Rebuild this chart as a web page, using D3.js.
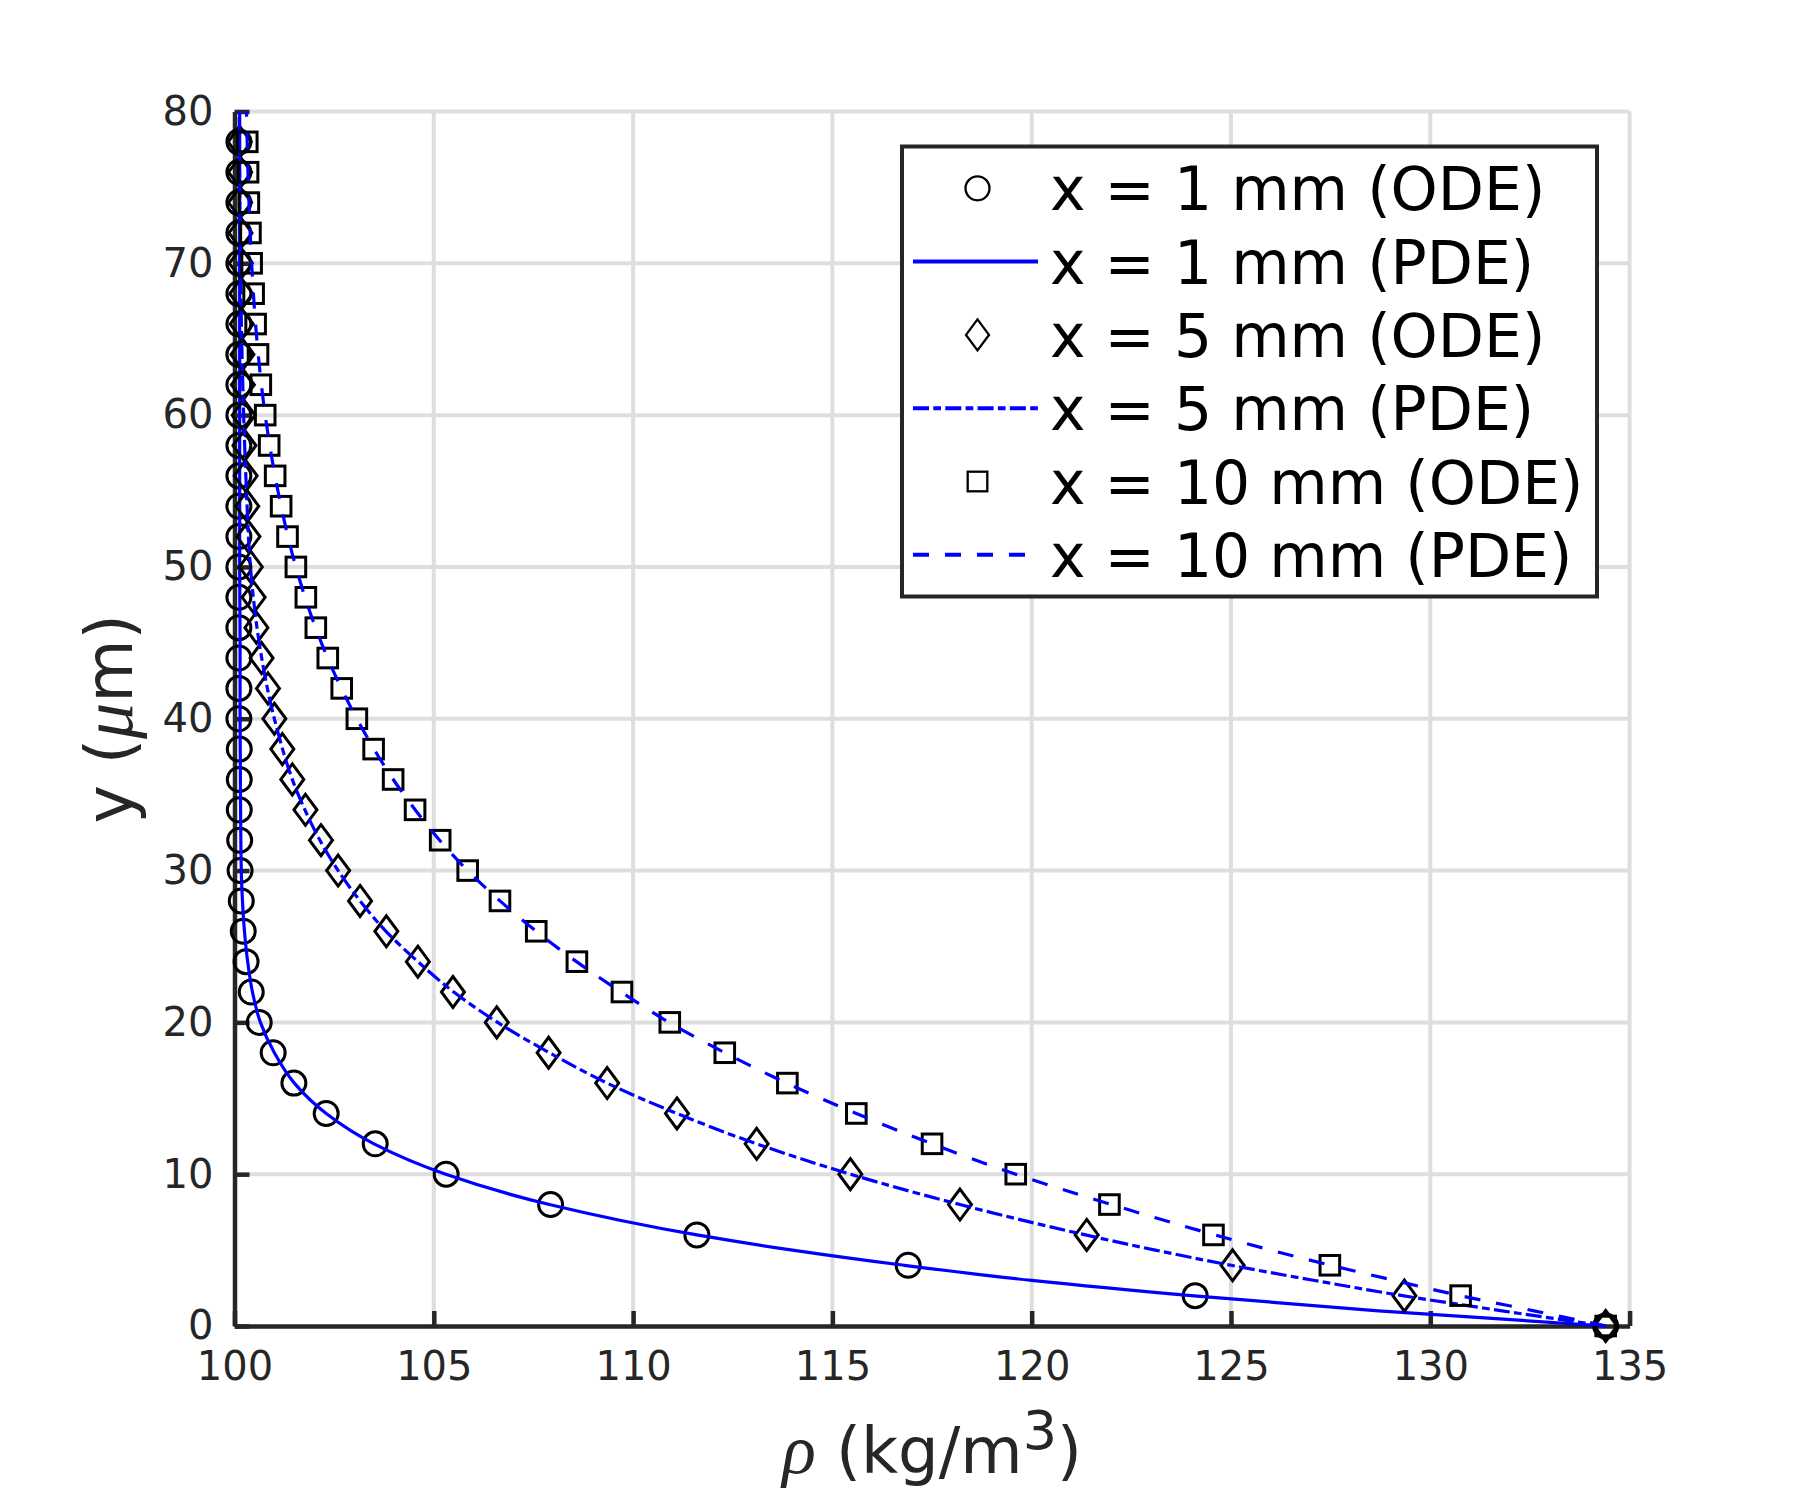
<!DOCTYPE html>
<html lang="en">
<head>
    <meta charset="UTF-8"/>
    <title>Density profiles, ODE vs PDE</title>
    <script src="https://d3js.org/d3.v7.min.js"></script>
    <style>
        body,
        html {
            margin: 0;
            padding: 0;
            background: #ffffff;
            font-family: "DejaVu Sans", sans-serif;
        }

        .chart {
            display: block;
        }
    </style>
</head>
<body>
<svg class="chart" width="1800" height="1500"></svg>
<script>
    // y positions (um) of the ODE markers
    const odeY = [0, 2, 4, 6, 8, 10, 12, 14, 16, 18, 20, 22, 24, 26, 28, 30, 32, 34, 36, 38,
        40, 42, 44, 46, 48, 50, 52, 54, 56, 58, 60, 62, 64, 66, 68, 70, 72, 74, 76, 78];

    // rho (kg/m3) of the ODE solution at x = 1, 5, 10 mm
    const odeX1 = [134.4, 124.1, 116.9, 111.6, 107.93, 105.31, 103.53, 102.3, 101.49, 100.97,
        100.62, 100.42, 100.29, 100.22, 100.17, 100.14, 100.13, 100.12, 100.12, 100.12,
        100.11, 100.11, 100.11, 100.11, 100.11, 100.11, 100.11, 100.11, 100.11, 100.11,
        100.11, 100.11, 100.11, 100.11, 100.11, 100.11, 100.11, 100.11, 100.11, 100.11];
    const odeX5 = [134.4, 129.35, 125.04, 121.38, 118.2, 115.45, 113.1, 111.1, 109.35, 107.88,
        106.58, 105.48, 104.6, 103.81, 103.15, 102.6, 102.17, 101.78, 101.45, 101.2,
        101.0, 100.84, 100.68, 100.55, 100.48, 100.41, 100.35, 100.32, 100.28, 100.25,
        100.23, 100.21, 100.2, 100.18, 100.17, 100.16, 100.15, 100.14, 100.14, 100.13];
    const odeX10 = [134.4, 130.76, 127.48, 124.56, 121.95, 119.6, 117.5, 115.6, 113.87, 112.3,
        110.92, 109.72, 108.59, 107.57, 106.66, 105.85, 105.16, 104.53, 103.98, 103.49,
        103.07, 102.69, 102.34, 102.04, 101.79, 101.54, 101.33, 101.17, 101.02, 100.87,
        100.77, 100.66, 100.59, 100.53, 100.48, 100.43, 100.4, 100.36, 100.34, 100.32];

    // y positions (um) sampled along the PDE curves
    const pdeY = [0, 1, 2, 3, 4, 5, 6, 8, 10, 12, 14, 16, 18, 20, 22, 24, 26, 28, 30,
        35, 40, 45, 50, 55, 60, 65, 70, 75, 80];

    const pdeX1 = [134.4, 128.7, 124.0, 120.0, 116.8, 114.0, 111.6, 107.9, 105.3, 103.5,
        102.3, 101.5, 101.0, 100.65, 100.45, 100.33, 100.25, 100.2, 100.17,
        100.15, 100.14, 100.14, 100.13, 100.13, 100.13, 100.13, 100.13, 100.13, 100.13];
    const pdeX5 = [134.4, 131.8, 129.3, 127.1, 125.0, 123.1, 121.35, 118.2, 115.45, 113.1,
        111.1, 109.35, 107.9, 106.6, 105.5, 104.6, 103.8, 103.15, 102.6,
        101.6, 101.0, 100.62, 100.4, 100.3, 100.23, 100.18, 100.15, 100.13, 100.12];
    const pdeX10 = [134.4, 132.6, 130.75, 129.1, 127.5, 126.0, 124.6, 122.0, 119.6, 117.5,
        115.6, 113.85, 112.3, 110.9, 109.7, 108.58, 107.57, 106.66, 105.85,
        104.25, 103.07, 102.18, 101.54, 101.09, 100.77, 100.56, 100.43, 100.35, 100.3];

    const xTicks = [100, 105, 110, 115, 120, 125, 130, 135];
    const yTicks = [0, 10, 20, 30, 40, 50, 60, 70, 80];

    const legendLabels = [
        "x = 1 mm (ODE)",
        "x = 1 mm (PDE)",
        "x = 5 mm (ODE)",
        "x = 5 mm (PDE)",
        "x = 10 mm (ODE)",
        "x = 10 mm (PDE)"
    ];

    const svg = d3.select(".chart");
    const plot = {left: 234.5, right: 1629.6, top: 111.5, bottom: 1326};
    const ink = "#262626";
    const greek = "Liberation Serif";

    const xScale = d3.scaleLinear().domain([100, 135]).range([plot.left, plot.right]);
    const yScale = d3.scaleLinear().domain([0, 80]).range([plot.bottom, plot.top]);

    // grid
    const grid = svg.append("g").attr("stroke", "#dedede").attr("stroke-width", 4);
    grid.selectAll("line.gx")
        .data(xTicks.slice(1))
        .enter()
        .append("line")
        .attr("x1", (d) => xScale(d))
        .attr("x2", (d) => xScale(d))
        .attr("y1", plot.top)
        .attr("y2", plot.bottom);
    grid.selectAll("line.gy")
        .data(yTicks.slice(1))
        .enter()
        .append("line")
        .attr("x1", plot.left)
        .attr("x2", plot.right)
        .attr("y1", (d) => yScale(d))
        .attr("y2", (d) => yScale(d));

    // axes
    const xAxis = svg.append("g")
        .attr("transform", `translate(0,${plot.bottom})`)
        .call(d3.axisBottom(xScale).tickValues(xTicks).tickSizeInner(-15).tickSizeOuter(0).tickPadding(26));
    const yAxis = svg.append("g")
        .attr("transform", `translate(${plot.left},0)`)
        .call(d3.axisLeft(yScale).tickValues(yTicks).tickSizeInner(-15).tickSizeOuter(0).tickPadding(21));

    [xAxis, yAxis].forEach((g) => {
        g.select(".domain").attr("stroke", ink).attr("stroke-width", 4.5);
        g.selectAll(".tick line").attr("stroke", ink).attr("stroke-width", 4.5);
        g.selectAll(".tick text")
            .attr("fill", ink)
            .attr("font-family", "DejaVu Sans")
            .attr("font-size", 40);
    });

    // axis titles
    const xTitle = svg.append("text")
        .attr("x", (plot.left + plot.right) / 2)
        .attr("y", 1473)
        .attr("text-anchor", "middle")
        .attr("fill", ink)
        .attr("font-size", 64);
    xTitle.append("tspan").attr("font-family", greek).attr("font-style", "italic").attr("font-size", 70).text("ρ");
    xTitle.append("tspan").text(" (kg/m");
    xTitle.append("tspan").attr("font-size", 54).attr("dy", -24).text("3");
    xTitle.append("tspan").attr("dy", 24).text(")");

    const yTitle = svg.append("text")
        .attr("transform", `translate(132,${(plot.top + plot.bottom) / 2}) rotate(-90)`)
        .attr("text-anchor", "middle")
        .attr("fill", ink)
        .attr("font-size", 65);
    yTitle.append("tspan").text("y (");
    yTitle.append("tspan").attr("font-family", greek).attr("font-style", "italic").attr("font-size", 72).text("μ");
    yTitle.append("tspan").text("m)");

    // marker shapes
    function marker(g, kind, cx, cy, sw) {
        if (kind === "circle") {
            g.append("circle").attr("cx", cx).attr("cy", cy).attr("r", 12);
        } else if (kind === "diamond") {
            g.append("path").attr("d", `M${cx},${cy - 15.5}L${cx + 11.5},${cy}L${cx},${cy + 15.5}L${cx - 11.5},${cy}Z`);
        } else {
            g.append("rect").attr("x", cx - 9.8).attr("y", cy - 9.8).attr("width", 19.6).attr("height", 19.6);
        }
        g.attr("fill", "none").attr("stroke", "#000").attr("stroke-width", sw);
    }

    const line = d3.line()
        .x((d) => xScale(d[0]))
        .y((d) => yScale(d[1]))
        .curve(d3.curveMonotoneY);

    const series = [
        {ode: odeX1, pde: pdeX1, shape: "circle", dash: null},
        {ode: odeX5, pde: pdeX5, shape: "diamond", dash: "16,4.3,7.7,4.3"},
        {ode: odeX10, pde: pdeX10, shape: "square", dash: "16,16"}
    ];

    series.forEach((s) => {
        const pts = svg.append("g");
        s.ode.forEach((v, i) => marker(pts.append("g"), s.shape, xScale(v), yScale(odeY[i]), 3));

        svg.append("path")
            .datum(s.pde.map((v, i) => [v, pdeY[i]]))
            .attr("fill", "none")
            .attr("stroke", "#0000ff")
            .attr("stroke-width", 3.2)
            .attr("stroke-dasharray", s.dash)
            .attr("d", line);
    });

    // legend
    const legend = svg.append("g");
    legend.append("rect")
        .attr("x", 902)
        .attr("y", 146.5)
        .attr("width", 695)
        .attr("height", 450)
        .attr("fill", "#ffffff")
        .attr("stroke", ink)
        .attr("stroke-width", 4);

    legendLabels.forEach((label, i) => {
        const cy = 188.3 + i * 73.3;
        const s = series[Math.floor(i / 2)];
        if (i % 2 === 0) {
            marker(legend.append("g"), s.shape, 977.5, cy, 2.3);
        } else {
            legend.append("line")
                .attr("x1", 913)
                .attr("x2", 1038)
                .attr("y1", cy)
                .attr("y2", cy)
                .attr("stroke", "#0000ff")
                .attr("stroke-width", 4)
                .attr("stroke-dasharray", s.dash);
        }
        legend.append("text")
            .attr("x", 1050)
            .attr("y", cy + 22)
            .attr("fill", "#000")
            .attr("font-size", 60)
            .text(label);
    });
</script>
</body>
</html>
